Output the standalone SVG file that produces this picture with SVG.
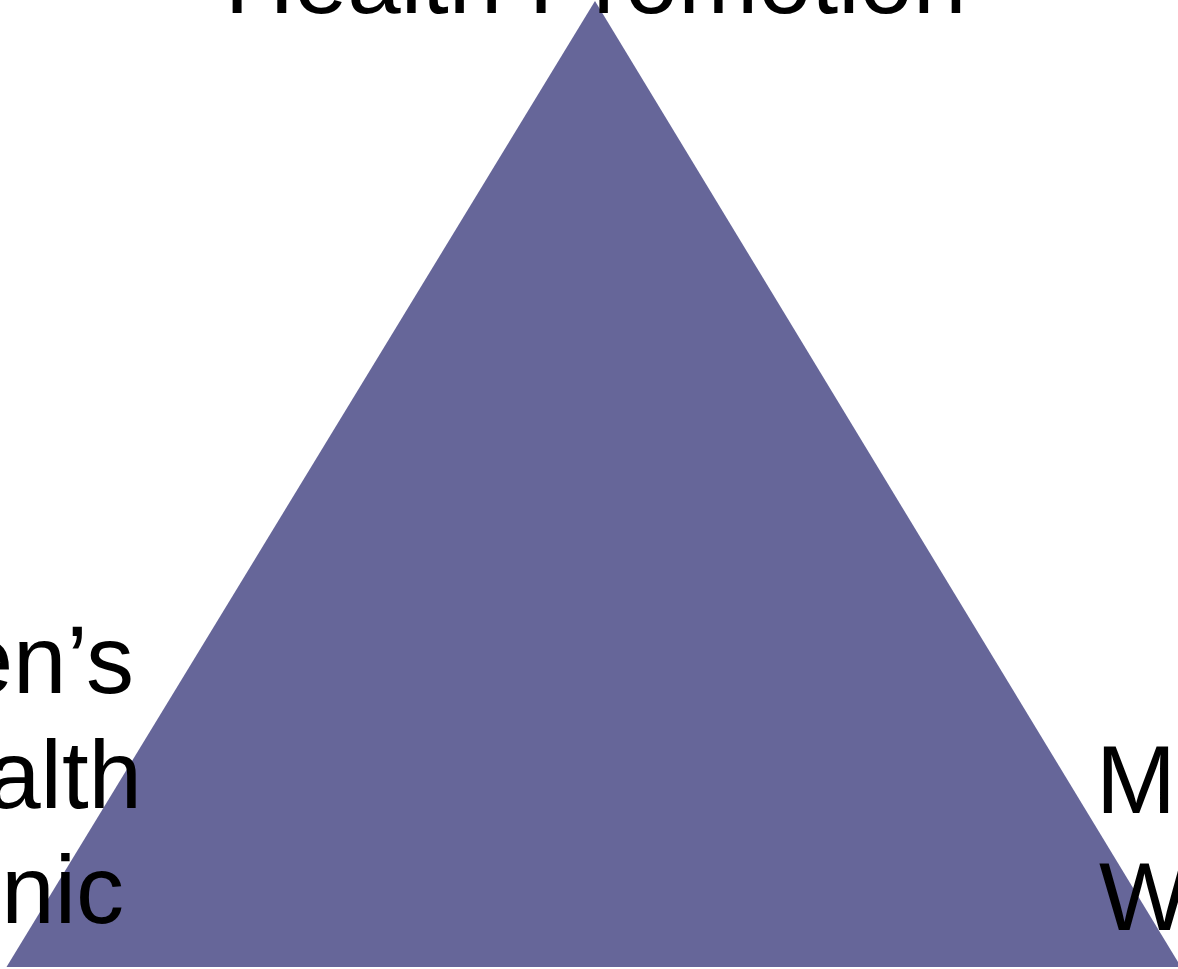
<svg xmlns="http://www.w3.org/2000/svg" width="1178" height="969" viewBox="0 0 1178 969">
<style>
.lbl{font-family:"Liberation Sans",Arial,sans-serif;font-size:96px;fill:#000}
</style>
<rect width="1178" height="969" fill="#fff"/>
<g id="triangle">
<polygon points="595,1 6.5,967 1181,967" fill="#666699"/>
</g>
<g id="top-label">
<text class="lbl" x="595.5" y="12.5" text-anchor="middle">Health Promotion</text>
</g>
<g id="left-label">
<text class="lbl" x="134" y="692.7" text-anchor="end">en’s</text>
<text class="lbl" x="142" y="807.5" text-anchor="end">alth</text>
<text class="lbl" x="124" y="922.5" text-anchor="end">nic</text>
</g>
<g id="right-label">
<text class="lbl" x="1096" y="813">M</text>
<text class="lbl" x="1099" y="930">W</text>
</g>
<g id="connectors"></g>
</svg>
